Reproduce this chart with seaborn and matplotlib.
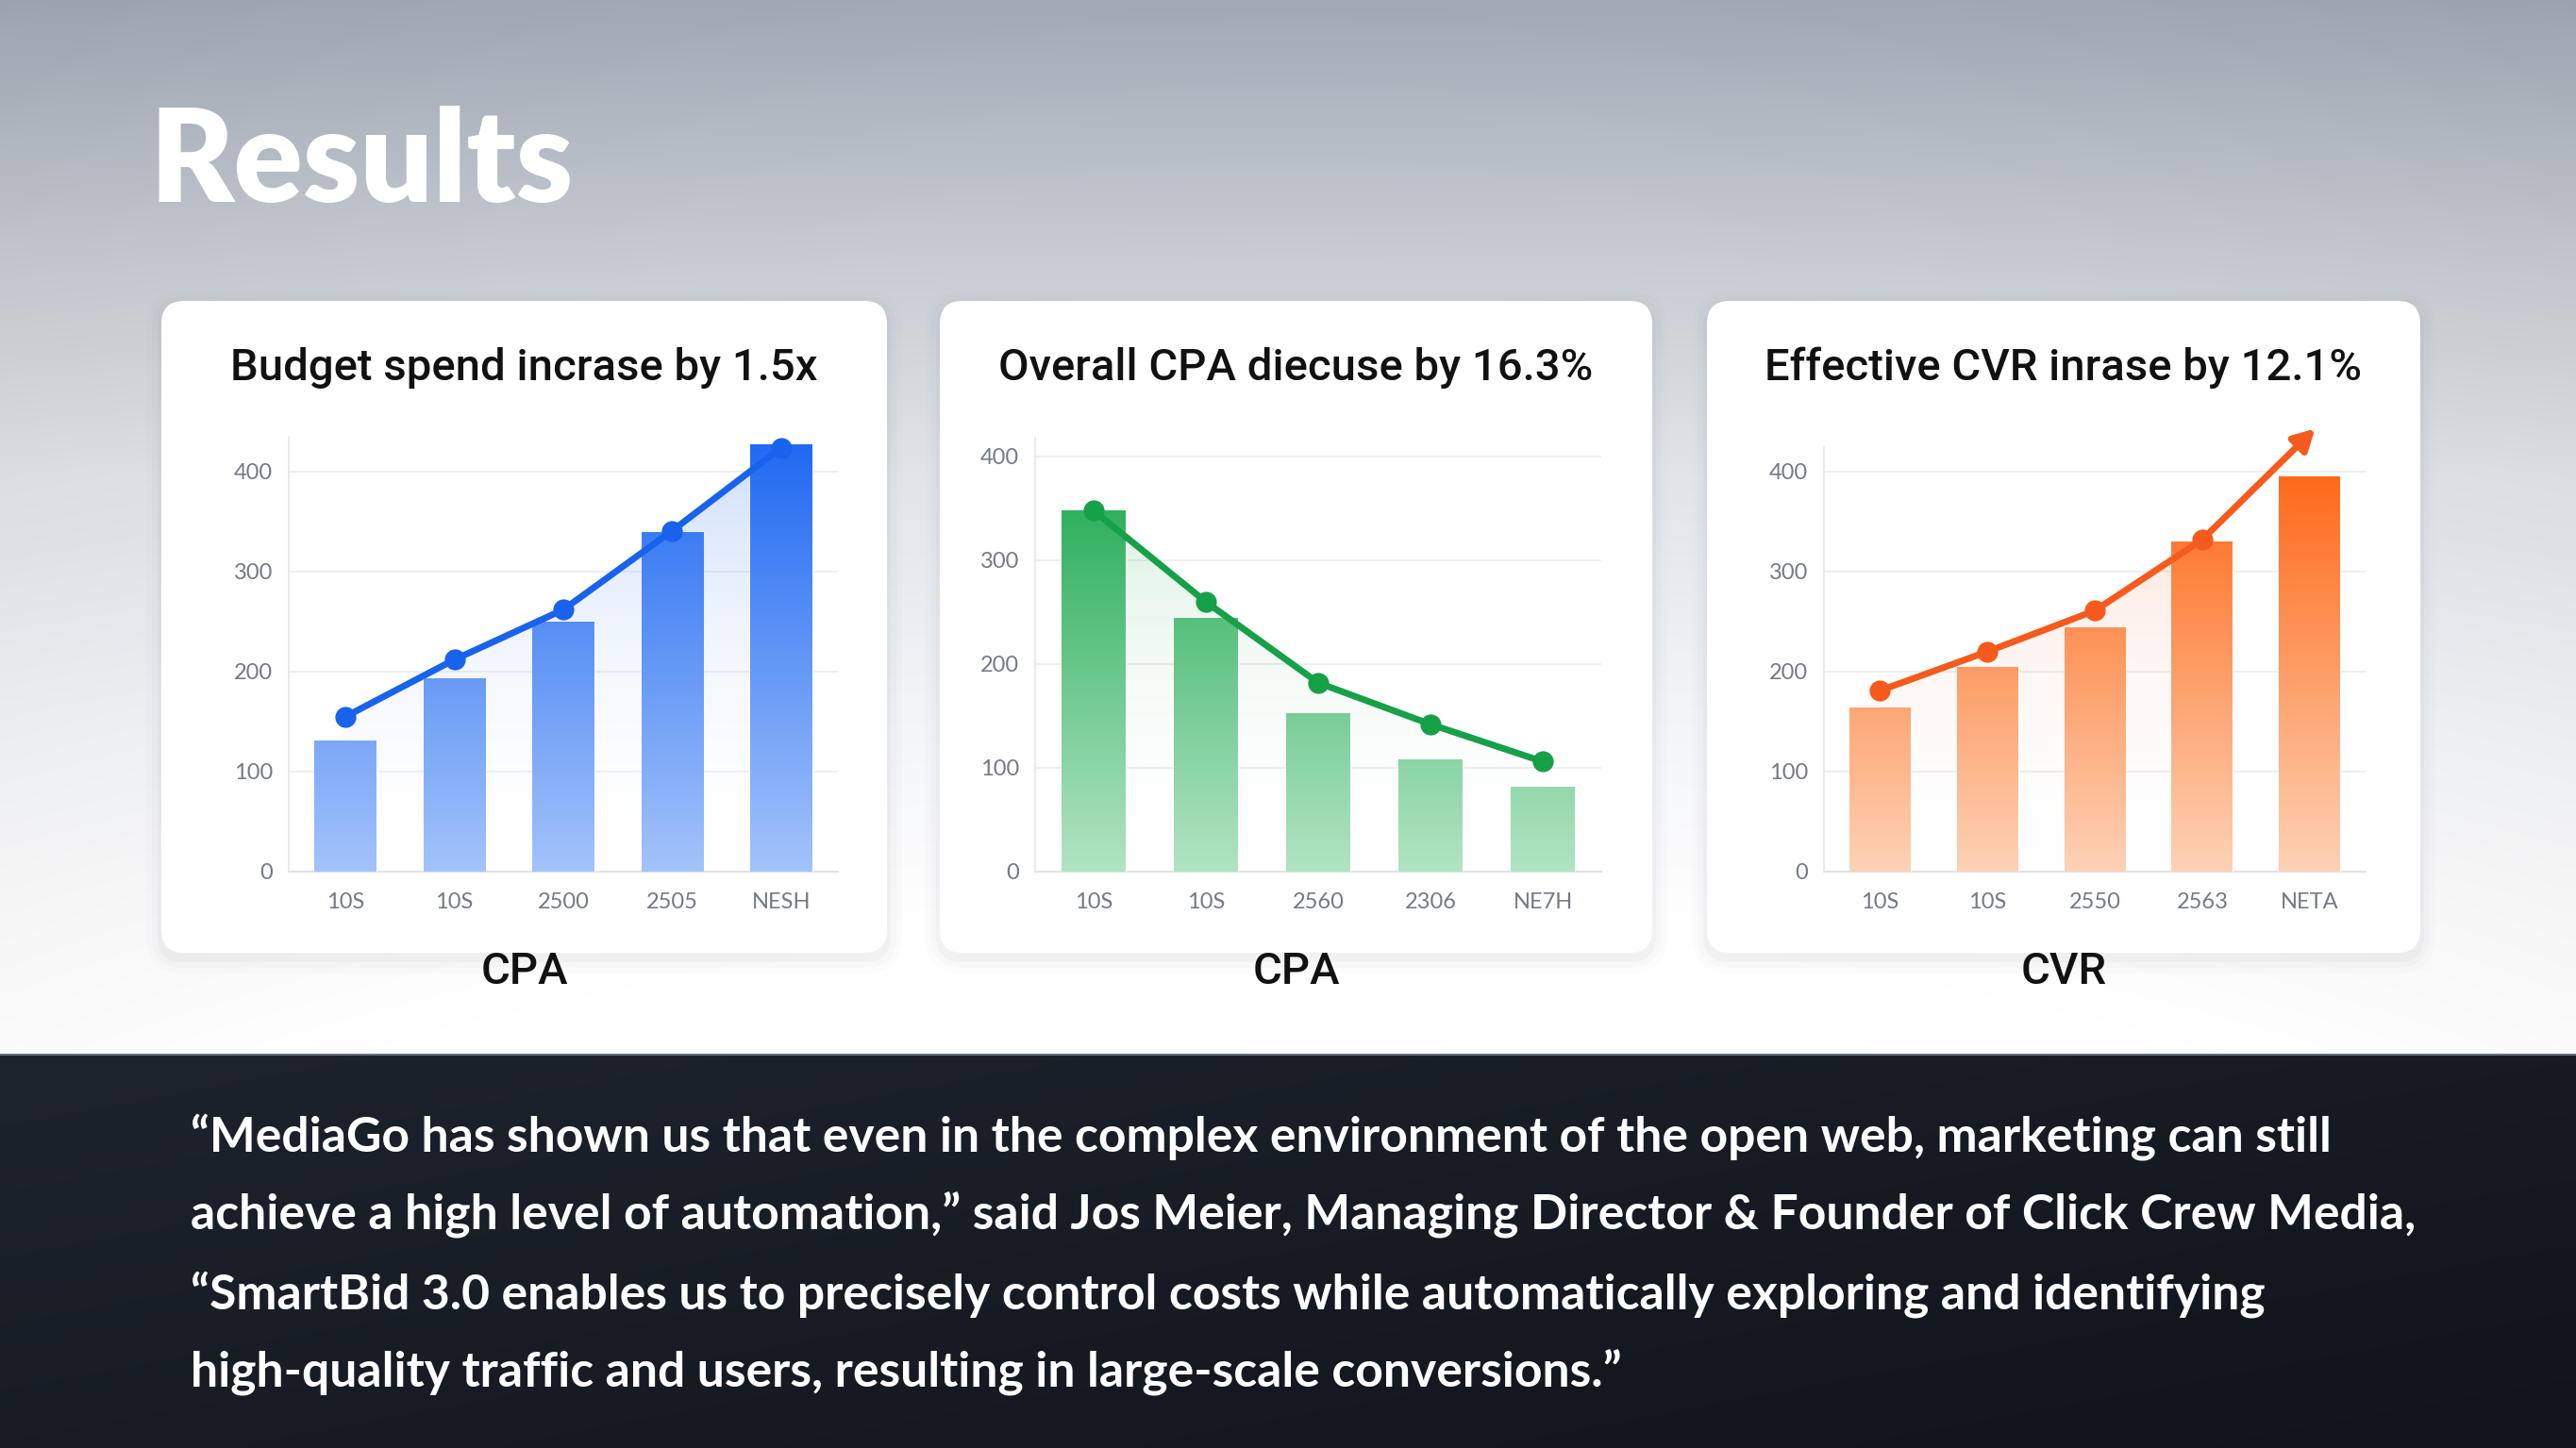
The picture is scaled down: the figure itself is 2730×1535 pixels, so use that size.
import numpy as np
import matplotlib
matplotlib.use('Agg')
import matplotlib.pyplot as plt
from matplotlib.patches import FancyBboxPatch
from matplotlib.colors import to_rgb
import seaborn as sns

W, H = 2730, 1535

# ── Data ───────────────────────────────────────────────────────────────────────
budget_labels = ['10S', '10S', '2500', '2505', 'NESH']
budget_bars = [131, 193, 250, 340, 427]
budget_line = [155, 212, 262, 341, 424]

cpa_labels = ['10S', '10S', '2560', '2306', 'NE7H']
cpa_bars = [348, 245, 153, 108, 82]
cpa_line = [348, 260, 182, 142, 106]

cvr_labels = ['10S', '10S', '2550', '2563', 'NETA']
cvr_bars = [164, 205, 244, 330, 395]
cvr_line = [181, 220, 261, 332]
cvr_arrow_x, cvr_arrow_y = 4.05, 443

card_titles = ['Budget spend incrase by 1.5x',
               'Overall CPA diecuse by 16.3%',
               'Effective CVR inrase by 12.1%']
card_captions = ['CPA', 'CPA', 'CVR']
y_ticks = [0, 100, 200, 300, 400]

quote_lines = [
    '\u201cMediaGo has shown us that even in the complex environment of the open web, marketing can still',
    'achieve a high level of automation,\u201d said Jos Meier, Managing Director & Founder of Click Crew Media,',
    '\u201cSmartBid 3.0 enables us to precisely control costs while automatically exploring and identifying',
    'high-quality traffic and users, resulting in large-scale conversions.\u201d',
]

# ── Style ──────────────────────────────────────────────────────────────────────
sns.set_theme(style='white')
plt.rcParams['font.family'] = ['Lato', 'DejaVu Sans']

BLUE = dict(top='#1f68f2', bot='#a3c3fa', line='#1862ee')
GREEN = dict(top='#15a64a', bot='#b2e4c3', line='#16a048')
ORANGE = dict(top='#ff620e', bot='#fdd2b6', line='#f65a1c')


def grad_image(ax, extent, c_top, c_bot, a_top=1.0, a_bot=1.0, z=3, clip=None, clip_tr=None):
    n = 256
    t = np.linspace(0, 1, n)[:, None, None]           # 0 bottom → 1 top
    ct, cb = np.array(to_rgb(c_top)), np.array(to_rgb(c_bot))
    rgb = cb + (ct - cb) * t
    alpha = a_bot + (a_top - a_bot) * t
    arr = np.concatenate([rgb, alpha], axis=2)
    im = ax.imshow(arr, extent=extent, origin='lower', aspect='auto',
                   zorder=z, interpolation='bicubic')
    if clip is not None:
        if clip_tr is None:
            im.set_clip_path(clip)
        else:
            im.set_clip_path(clip, clip_tr)
    return im


fig = plt.figure(figsize=(W / 100, H / 100), dpi=100)

# ── Background canvas (1 unit = 1 pixel) ───────────────────────────────────────
bg = fig.add_axes([0, 0, 1, 1])
bg.set_xlim(0, W)
bg.set_ylim(H, 0)
bg.axis('off')

ys = np.linspace(0, 1118, 300)
stops_y = [0, 250, 500, 750, 950, 1118]
stops_c = ['#9ea6b2', '#c1c6cd', '#dde0e4', '#eef0f2', '#f9f9fa', '#ffffff']
cols = np.array([to_rgb(c) for c in stops_c])
top_rgb = np.stack([np.interp(ys, stops_y, cols[:, k]) for k in range(3)], axis=1)
xs = np.linspace(-1, 1, 200)
vign = 1 - 0.035 * (1 - xs ** 2)          # centre slightly lighter
top_img = np.clip(top_rgb[:, None, :] / vign[None, :, None] * 0.985, 0, 1)
bg.imshow(top_img, extent=(0, W, 1118, 0), aspect='auto', zorder=0, interpolation='bicubic')

# dark quote band
yy = np.linspace(0, 1, 60)[:, None]
xx = np.linspace(0, 1, 120)[None, :]
c1, c2 = np.array(to_rgb('#1d232d')), np.array(to_rgb('#10141b'))
mix = np.clip(0.55 * xx + 0.45 * yy, 0, 1)[..., None]
band = c1 + (c2 - c1) * mix
bg.imshow(band, extent=(0, W, H, 1118), aspect='auto', zorder=0, interpolation='bicubic')
bg.plot([0, W], [1118, 1118], color='#6a707a', lw=1.5, zorder=1)

bg.text(158, 214, 'Results', color='white', fontsize=98, fontweight='heavy',
        family=['Lato', 'DejaVu Sans'], va='baseline', ha='left', zorder=2)

# ── Cards + charts ─────────────────────────────────────────────────────────────
specs = [
    dict(card=(171, 319, 940, 1010), ax_x=(306, 888), zero=924, ppu=1.06, ytop=435,
         labels=budget_labels, bars=budget_bars, line=budget_line, pal=BLUE),
    dict(card=(996, 319, 1751, 1010), ax_x=(1097, 1697), zero=924, ppu=1.10, ytop=418,
         labels=cpa_labels, bars=cpa_bars, line=cpa_line, pal=GREEN),
    dict(card=(1809, 319, 2565, 1010), ax_x=(1933, 2507), zero=924, ppu=1.06, ytop=425,
         labels=cvr_labels, bars=cvr_bars, line=cvr_line, pal=ORANGE),
]

for i, sp in enumerate(specs):
    x0, y0, x1, y1 = sp['card']
    for k, a in enumerate([0.03, 0.02, 0.012]):
        pad = 4 + k * 6
        bg.add_patch(FancyBboxPatch((x0 - pad, y0 - pad + 6), x1 - x0 + 2 * pad, y1 - y0 + 2 * pad,
                                    boxstyle='round,pad=0,rounding_size=%d' % (24 + pad),
                                    facecolor='#3a4250', edgecolor='none', alpha=a, zorder=1))
    bg.add_patch(FancyBboxPatch((x0, y0), x1 - x0, y1 - y0,
                                boxstyle='round,pad=0,rounding_size=24',
                                facecolor='white', edgecolor='none', zorder=1.5))
    cx = (x0 + x1) / 2
    bg.text(cx, 390, card_titles[i], ha='center', va='center', fontsize=34,
            color='#111111', family=['Roboto', 'DejaVu Sans'], fontweight='medium', zorder=2)
    bg.text(cx, 1030, card_captions[i], ha='center', va='center', fontsize=34,
            color='#111111', family=['Roboto', 'DejaVu Sans'], fontweight='medium', zorder=2)

    # axes placement
    ax_l, ax_r = sp['ax_x']
    top_px = sp['zero'] - sp['ytop'] * sp['ppu']
    ax = fig.add_axes([ax_l / W, (H - sp['zero']) / H, (ax_r - ax_l) / W, (sp['zero'] - top_px) / H])
    ax.patch.set_alpha(0)
    pal = sp['pal']
    n = len(sp['bars'])
    pos = np.arange(n)

    sns.barplot(x=pos, y=sp['bars'], ax=ax, color=pal['top'], width=0.57,
                saturation=1, zorder=3)
    sns.lineplot(x=np.arange(len(sp['line'])), y=sp['line'], ax=ax, color=pal['line'],
                 lw=5, marker='o', markersize=16, markeredgewidth=0, zorder=6)
    for ln in ax.lines:
        ln.set_clip_on(False)
        ln.set_solid_capstyle('round')

    xlim = (-0.52, n - 0.48)
    ylim = (0, sp['ytop'])

    # gradient bars (colour follows absolute height)
    for p in ax.patches:
        bx, bw = p.get_x(), p.get_width()
        p.set_facecolor('none')
        grad_image(ax, (bx, bx + bw, 0, sp['ytop']), pal['top'], pal['bot'], z=4, clip=p)

    # soft area under line
    lx = np.arange(len(sp['line']))
    poly = ax.fill_between(lx, sp['line'], 0, color='none', zorder=2)
    path = poly.get_paths()[0]
    grad_image(ax, (xlim[0], xlim[1], 0, sp['ytop']), pal['line'], '#ffffff',
               a_top=0.22, a_bot=0.0, z=2, clip=path, clip_tr=ax.transData)

    if i == 2:
        ax.annotate('', xy=(cvr_arrow_x, cvr_arrow_y), xytext=(lx[-1], sp['line'][-1]),
                    arrowprops=dict(arrowstyle='-|>,head_length=1.1,head_width=0.6',
                                    color=pal['line'], lw=5, shrinkA=0, shrinkB=0),
                    zorder=6, annotation_clip=False)

    ax.set_xlim(*xlim)
    ax.set_ylim(*ylim)
    ax.set_yticks(y_ticks)
    ax.set_xticks(pos)
    ax.set_xticklabels(sp['labels'])
    ax.yaxis.grid(True, color='#eceef1', lw=1.3, zorder=0)
    ax.xaxis.grid(False)
    ax.set_axisbelow(True)
    for s in ['top', 'right']:
        ax.spines[s].set_visible(False)
    ax.spines['left'].set_color('#e6e9ed')
    ax.spines['bottom'].set_color('#dfe3e8')
    ax.spines['left'].set_linewidth(1.3)
    ax.spines['bottom'].set_linewidth(1.5)
    ax.tick_params(axis='both', length=0, labelsize=17, labelcolor='#747a84')
    ax.tick_params(axis='x', pad=16)
    ax.tick_params(axis='y', pad=12)
    ax.set_xlabel('')
    ax.set_ylabel('')

# ── Quote ──────────────────────────────────────────────────────────────────────
line_y = [1205, 1288, 1372, 1455]
renderer = fig.canvas.get_renderer()
texts = []
for ly, q in zip(line_y, quote_lines):
    texts.append(bg.text(202, ly, q, color='white', fontsize=36, fontweight='bold',
                         family=['Lato', 'DejaVu Sans'], va='center', ha='left', zorder=2))
w_long = texts[1].get_window_extent(renderer).width
scale = 2354 / w_long
for t in texts:
    t.set_fontsize(36 * scale)

fig.savefig('out.png', dpi=100)
